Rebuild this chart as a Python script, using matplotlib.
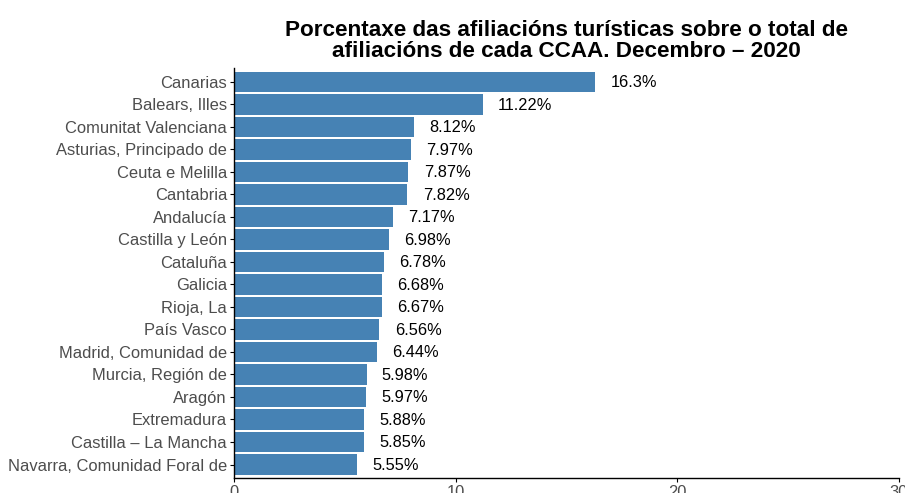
import numpy as np
import matplotlib.pyplot as plt

plt.rcParams['font.family'] = ['Liberation Sans', 'DejaVu Sans']

ccaa = ['Canarias', 'Balears, Illes', 'Comunitat Valenciana', 'Asturias, Principado de',
        'Ceuta e Melilla', 'Cantabria', 'Andalucía', 'Castilla y León', 'Cataluña',
        'Galicia', 'Rioja, La', 'País Vasco', 'Madrid, Comunidad de', 'Murcia, Región de',
        'Aragón', 'Extremadura', 'Castilla – La Mancha', 'Navarra, Comunidad Foral de']
porcentaxe = [16.3, 11.22, 8.12, 7.97, 7.87, 7.82, 7.17, 6.98, 6.78, 6.68, 6.67,
              6.56, 6.44, 5.98, 5.97, 5.88, 5.85, 5.55]
etiquetas = ['16.3%', '11.22%', '8.12%', '7.97%', '7.87%', '7.82%', '7.17%', '6.98%',
             '6.78%', '6.68%', '6.67%', '6.56%', '6.44%', '5.98%', '5.97%', '5.88%',
             '5.85%', '5.55%']
xticks = [0, 10, 20, 30]

fig = plt.figure(figsize=(9.05, 4.93), dpi=100)
ax = fig.add_axes([0.2586, 0.0304, 0.7348, 0.8309])

y = np.arange(len(ccaa))[::-1]
ax.barh(y, porcentaxe, height=0.9, color='#4682B4')

for yi, v, lab in zip(y, porcentaxe, etiquetas):
    ax.annotate(lab, (v, yi), xytext=(11, -0.5), textcoords='offset points',
                ha='left', va='center', fontsize=11.8, color='black')

ax.set_yticks(y)
ax.set_yticklabels(ccaa)
ax.set_xticks(xticks)
ax.set_xlim(0, 30)
ax.set_ylim(-0.6, len(ccaa) - 0.4)

for s in ['top', 'right']:
    ax.spines[s].set_visible(False)
for s in ['left', 'bottom']:
    ax.spines[s].set_linewidth(1.0)
    ax.spines[s].set_color('black')

ax.tick_params(axis='y', length=3, labelsize=11.9, labelcolor='#4D4D4D', pad=2)
ax.tick_params(axis='x', length=3, labelsize=11.9, labelcolor='#4D4D4D', pad=2)

ax.set_title('Porcentaxe das afiliacións turísticas sobre o total de\n'
             'afiliacións de cada CCAA. Decembro – 2020',
             fontsize=16.2, fontweight='bold', linespacing=1.0, pad=8)

fig.savefig('out.png', dpi=100)
